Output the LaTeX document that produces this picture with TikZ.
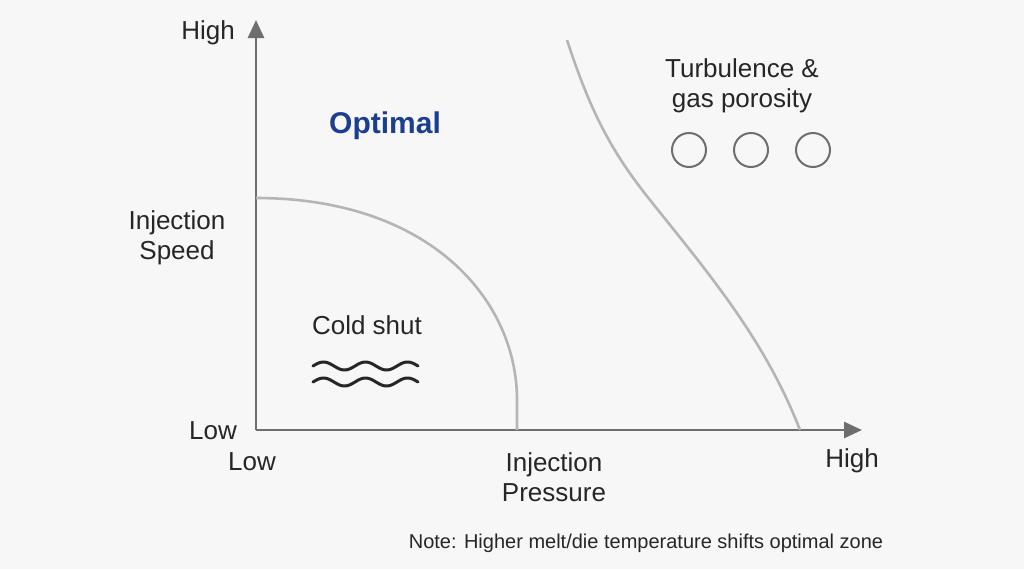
\documentclass[tikz,border=0pt]{standalone}
\usepackage{fontspec}
\setmainfont{Liberation Sans}
\usetikzlibrary{arrows.meta}
\definecolor{bgcol}{HTML}{F7F7F7}
\definecolor{axiscol}{HTML}{6E6E6E}
\definecolor{curvecol}{HTML}{B5B5B5}
\definecolor{optblue}{HTML}{1B3F8F}
\begin{document}
\begin{tikzpicture}[x=0.5pt,y=-0.5pt,
	axis/.style={draw=axiscol,line width=1.4pt,-{Triangle[length=9pt,width=8pt]}},
	zone/.style={draw=curvecol,line width=1.3pt},
	lbl/.style={font=\fontsize{13}{15}\selectfont,text=black!85,align=center,inner sep=0pt},
	bubble/.style={circle,draw=axiscol,line width=1pt,minimum size=17pt,inner sep=0pt}]
	\fill[bgcol] (0,0) rectangle (1024,569);
	\useasboundingbox (0,0) rectangle (1024,569);
	% axes
	\coordinate (origin) at (256,430);
	\coordinate (ytop) at (256,20);
	\coordinate (xend) at (862,430);
	\draw[axis] (origin) -- (ytop);
	\draw[axis] (origin) -- (xend);
	% zone boundaries
	\draw[zone] (256,198) .. controls (430,198) and (517,300) .. (517,400) -- (517,430);
	\draw[zone] (567,40) .. controls (590,110) and (610,150) .. (650,200)
		.. controls (710,275) and (765,340) .. (800,430);
	% axis labels
	\node[lbl] (yhigh) at (208,33) {High};
	\node[lbl] (ylow) at (213,431) {Low};
	\node[lbl] (xlow) at (252,462) {Low};
	\node[lbl] (xhigh) at (852,461) {High};
	\node[lbl] (ytitle) at (177,238) {Injection\\Speed};
	\node[lbl] (xtitle) at (554,477) {Injection\\Pressure};
	% regions
	\node[lbl,font=\fontsize{15}{17}\selectfont\bfseries,text=optblue] (optimal) at (385,126) {Optimal};
	\node[lbl] (turb) at (742,86) {Turbulence \&\\gas porosity};
	\foreach \i/\x in {1/689,2/751,3/813}
		\node[bubble] (pore\i) at (\x,150) {};
	\node[lbl] (cold) at (367,325) {Cold shut};
	\foreach \y in {366,382}
		\draw[black!85,line width=1.5pt,line cap=round,domain=0:105,samples=60,xshift=156.5pt]
			plot (\x,{\y-4*sin(\x*8.5714)});
	\node[lbl,font=\fontsize{10}{12}\selectfont] (note) at (646,543) {Note: Higher melt/die temperature shifts optimal zone};
\end{tikzpicture}
\end{document}
